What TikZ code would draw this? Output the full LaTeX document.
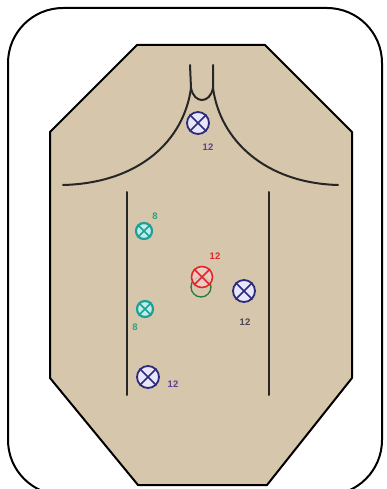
\documentclass[tikz,border=0pt]{standalone}
\usepackage{fontspec}
\setmainfont{Liberation Sans}
\begin{document}
\begin{tikzpicture}[x=1pt,y=-1pt,
  bodyline/.style={line width=2pt,draw=black!85,line cap=round},
  lbl/.style={font=\bfseries\fontsize{9.5}{10}\selectfont,inner sep=0pt},
  bluem/.style={circle,minimum size=22pt,inner sep=0pt,line width=1.8pt,draw=navy,fill=navyfill},
  tealm/.style={circle,minimum size=16pt,inner sep=0pt,line width=2.2pt,draw=tealc,fill=tealfill},
  redm/.style={circle,minimum size=21pt,inner sep=0pt,line width=1.6pt,draw=redc,fill=redfill,fill opacity=0.85,draw opacity=1},
  greenm/.style={circle,minimum size=20pt,inner sep=0pt,line width=1.3pt,draw=greenc},
]
\definecolor{tan}{RGB}{214,199,172}
\definecolor{navy}{RGB}{45,42,125}
\definecolor{navyfill}{RGB}{232,230,248}
\definecolor{tealc}{RGB}{30,160,150}
\definecolor{tealfill}{RGB}{190,238,232}
\definecolor{redc}{RGB}{225,40,40}
\definecolor{redfill}{RGB}{240,205,200}
\definecolor{greenc}{RGB}{40,120,60}
\definecolor{purp}{RGB}{90,65,150}
\definecolor{grayl}{RGB}{70,70,85}
\definecolor{tealtext}{RGB}{50,160,130}
\useasboundingbox (0,0) rectangle (387,489);
\fill[white] (0,0) rectangle (387,489);
% outer frame
\draw[line width=2pt,rounded corners=55pt] (8,8) rectangle (382,495);
% body
\draw[line width=2pt,fill=tan,line join=round]
  (137,45) -- (265,45) -- (352,132) -- (352,378) -- (267,485) -- (138,485) -- (50,378) -- (50,132) -- cycle;
% neck
\coordinate (nl) at (191,88);
\coordinate (nr) at (213,88);
\draw[bodyline] (190,65) -- (nl) .. controls (184,140) and (140,183) .. (63,185);
\draw[bodyline] (213,65) -- (nr) .. controls (220,140) and (265,183) .. (338,185);
\draw[bodyline] (nl) .. controls (194,104) and (210,104) .. (nr);
% side lines
\draw[bodyline] (127,192) -- (127,395);
\draw[bodyline] (269,192) -- (269,395);
% markers
\newcommand\xmark[2]{%
  \draw[#2,line width=1.6pt] (#1.north east) -- (#1.south west) (#1.north west) -- (#1.south east);}
\node[bluem] (b1) at (198,123) {};
\xmark{b1}{navy}
\node[lbl,text=purp] (l1) at (208,147) {12};
\node[tealm] (t1) at (144,231) {};
\xmark{t1}{tealc}
\node[lbl,text=tealtext] (l2) at (155,216) {8};
\node[tealm] (t2) at (145,309) {};
\xmark{t2}{tealc}
\node[lbl,text=tealtext] (l3) at (135,327) {8};
\node[greenm] (g1) at (201,287) {};
\node[redm] (r1) at (202,277) {};
\xmark{r1}{redc}
\node[lbl,text=redc] (l4) at (215,256) {12};
\node[bluem] (b2) at (244,291) {};
\xmark{b2}{navy}
\node[lbl,text=grayl] (l5) at (245,322) {12};
\node[bluem] (b3) at (148,377) {};
\xmark{b3}{navy}
\node[lbl,text=purp] (l6) at (173,384) {12};
\end{tikzpicture}
\end{document}
